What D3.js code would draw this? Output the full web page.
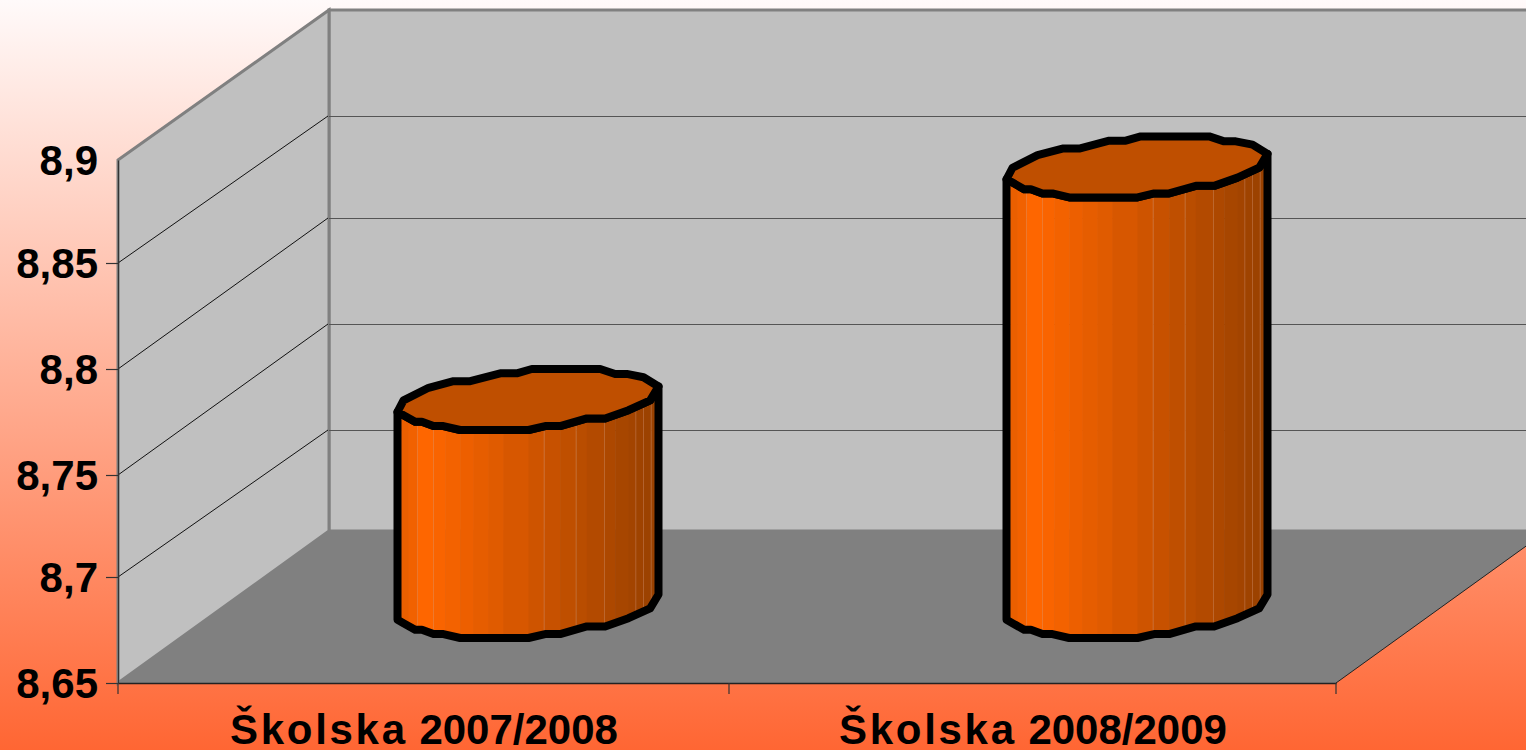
<!DOCTYPE html>
<html><head><meta charset="utf-8">
<script src="https://cdn.jsdelivr.net/npm/d3@7"></script>
<style>html,body{margin:0;padding:0;overflow:hidden;background:#fff}svg{display:block}
text{font-family:"Liberation Sans",Arial,sans-serif;font-weight:700;fill:#000}</style>
</head><body><svg id="c" width="1526" height="750"></svg>
<script>
const categories = ["Školska 2007/2008", "Školska 2008/2009"];
const values = [8.75, 8.86];
const yTicks = [8.65, 8.7, 8.75, 8.8, 8.85, 8.9];
const frontRange = [683, 577, 475, 369, 263, 160];
const backRange = [531, 430, 324, 218, 116, 10];
// faceted cylinder outline, unit coordinates
const capBack = [[-1,.405],[-.954,.027],[-.762,-.384],[-.571,-.6],[-.443,-.6],[-.213,-.859],[-.086,-.859],[.029,-1],[.553,-1],[.668,-.838],[.757,-.838],[.885,-.73],[1,-.427]];
const capFront = [[.936,.027],[.77,.351],[.591,.622],[.451,.622],[.246,.87],[.131,.87],[.004,1],[-.52,1],[-.648,.87],[-.724,.87],[-.813,.73],[-.865,.73],[-.954,.514]];
const facetEdges = [-1,-.972,-.916,-.847,-.724,-.635,-.52,-.418,-.303,-.188,.004,.124,.246,.369,.451,.586,.668,.77,.826,.885,.944,1];
const facetSeams = [-.847,-.724,.124,.369,.586,.826,.885,.944];

const left = 118, right = 1336, depthX = 211, W = 1526, H = 750;
const svg = d3.select("#c");
const defs = svg.append("defs");
const bg = defs.append("linearGradient").attr("id","bg").attr("x1",0).attr("y1",0).attr("x2",0).attr("y2",1);
bg.append("stop").attr("offset",0).attr("stop-color","#fffafa");
bg.append("stop").attr("offset",1).attr("stop-color","#ff6633");
svg.append("rect").attr("width",W).attr("height",H).attr("fill","url(#bg)");

const yFront = d3.scaleLinear().domain(yTicks).range(frontRange);
const yBack = d3.scaleLinear().domain(yTicks).range(backRange);
const x = d3.scaleBand().domain(categories).range([left,right]);
const xEdges = d3.scaleLinear().domain([0,1,2]).range([left,729,right]);
const lo = yTicks[0], hi = yTicks[yTicks.length-1];
const backX = left + depthX;
const pts = a => a.map(p=>p.join(",")).join(" ");

// walls and floor
svg.append("polygon").attr("points",pts([[backX,yBack(hi)],[W+5,yBack(hi)],[W+5,yBack(lo)],[backX,yBack(lo)]]))
  .attr("fill","#c0c0c0").attr("stroke","#808080").attr("stroke-width",3);
svg.append("polygon").attr("points",pts([[left,yFront(hi)],[backX,yBack(hi)],[backX,yBack(lo)],[left,yFront(lo)]]))
  .attr("fill","#c0c0c0").attr("stroke","#808080").attr("stroke-width",3);
svg.append("polygon").attr("points",pts([[left,yFront(lo)],[right,yFront(lo)],[right+depthX,yBack(lo)],[backX,yBack(lo)]]))
  .attr("fill","#808080");
// gridlines
const inner = yTicks.slice(1,-1);
svg.append("g").selectAll("line").data(inner).join("line")
  .attr("x1",left).attr("y1",d=>yFront(d)).attr("x2",backX-1).attr("y2",d=>yBack(d)).attr("stroke","#111").attr("stroke-width",1);
svg.append("g").selectAll("line").data(inner).join("line")
  .attr("x1",backX).attr("y1",d=>yBack(d)+.5).attr("x2",W).attr("y2",d=>yBack(d)+.5).attr("stroke","#555").attr("stroke-width",1.2);
svg.append("line").attr("x1",right).attr("y1",yFront(lo)).attr("x2",right+depthX).attr("y2",yBack(lo)).attr("stroke","#222").attr("stroke-width",1);

// bars
const halfW = 130.5, capHalf = 30.5, baseLift = 45;
const shade = d3.scaleLinear().domain([-1,-.85,-.78,1]).range(["#e45e00","#f46200","#ff6600","#974000"]);
categories.forEach((c,i)=>{
  const cx = x(c)+x.bandwidth()/2+depthX/2;
  const topFront = yFront(values[i])-baseLift, botFront = yFront(lo)-baseLift;
  const h = botFront-topFront;
  const ux = d3.scaleLinear().domain([-1,1]).range([cx-halfW,cx+halfW]);
  const uy = d3.scaleLinear().domain([-1,1]).range([topFront-2*capHalf,topFront]);
  const first = capBack[0], last = capBack[capBack.length-1];
  const topEdge = [last,...capFront,first].map(p=>[ux(p[0]),uy(p[1])]);
  const botEdge = topEdge.map(p=>[p[0],p[1]+h]).reverse();
  const body = [...topEdge,...botEdge];
  const cap = [...capBack,...capFront].map(p=>[ux(p[0]),uy(p[1])]);
  const g = svg.append("g");
  defs.append("clipPath").attr("id","b"+i).append("polygon").attr("points",pts(body));
  const f = g.append("g").attr("clip-path",`url(#b${i})`);
  f.selectAll("rect").data(d3.pairs(facetEdges)).join("rect")
    .attr("x",d=>ux(d[0])).attr("width",d=>ux(d[1])-ux(d[0])+.5)
    .attr("y",topFront-2*capHalf).attr("height",h+2*capHalf+5)
    .attr("fill",d=>shade((d[0]+d[1])/2));
  f.selectAll("line").data(facetSeams).join("line")
    .attr("x1",ux).attr("x2",ux).attr("y1",topFront-2*capHalf).attr("y2",botFront+5)
    .attr("stroke","#d8a080").attr("stroke-opacity",.45).attr("stroke-width",.8);
  g.append("polygon").attr("points",pts(body)).attr("fill","none").attr("stroke","#000").attr("stroke-width",8).attr("stroke-linejoin","round");
  g.append("polygon").attr("points",pts(cap)).attr("fill","#bf4f00").attr("stroke","#000").attr("stroke-width",8).attr("stroke-linejoin","round");
});

// axes
const fmt = d3.formatLocale({decimal:",",thousands:".",grouping:[3],currency:["",""]}).format(".2~f");
const ax = svg.append("g").attr("transform",`translate(${left},0)`)
  .call(d3.axisLeft(yFront).tickValues(yTicks).tickFormat(fmt).tickSize(12).tickSizeOuter(0).tickPadding(8));
ax.selectAll("line,path").attr("stroke","#333").attr("stroke-width",1.2);
ax.selectAll("text").attr("font-size",42).attr("fill","#000").attr("dy","0.345em").attr("textLength",null);
ax.selectAll(".tick").filter(d=>d===hi).select("line").remove();

const bx = svg.append("g").attr("transform",`translate(0,${yFront(lo)})`)
  .call(d3.axisBottom(x).tickSize(0).tickPadding(0));
bx.select(".domain").attr("stroke","#222").attr("stroke-width",1.5);
bx.selectAll(".tick text").each(function(d){
  const [w1,w2] = d.split(" ");
  const t = d3.select(this).text(null).attr("font-size",42).attr("fill","#000")
    .attr("x",1.5).attr("y",61).attr("dy",0);
  t.append("tspan").attr("letter-spacing",2.7).text(w1);
  t.append("tspan").text(" "+w2);
});
svg.append("g").selectAll("line").data([0,1,2]).join("line")
  .attr("x1",xEdges).attr("x2",xEdges).attr("y1",yFront(lo)).attr("y2",yFront(lo)+11)
  .attr("stroke","#333").attr("stroke-width",1.2);
</script></body></html>
